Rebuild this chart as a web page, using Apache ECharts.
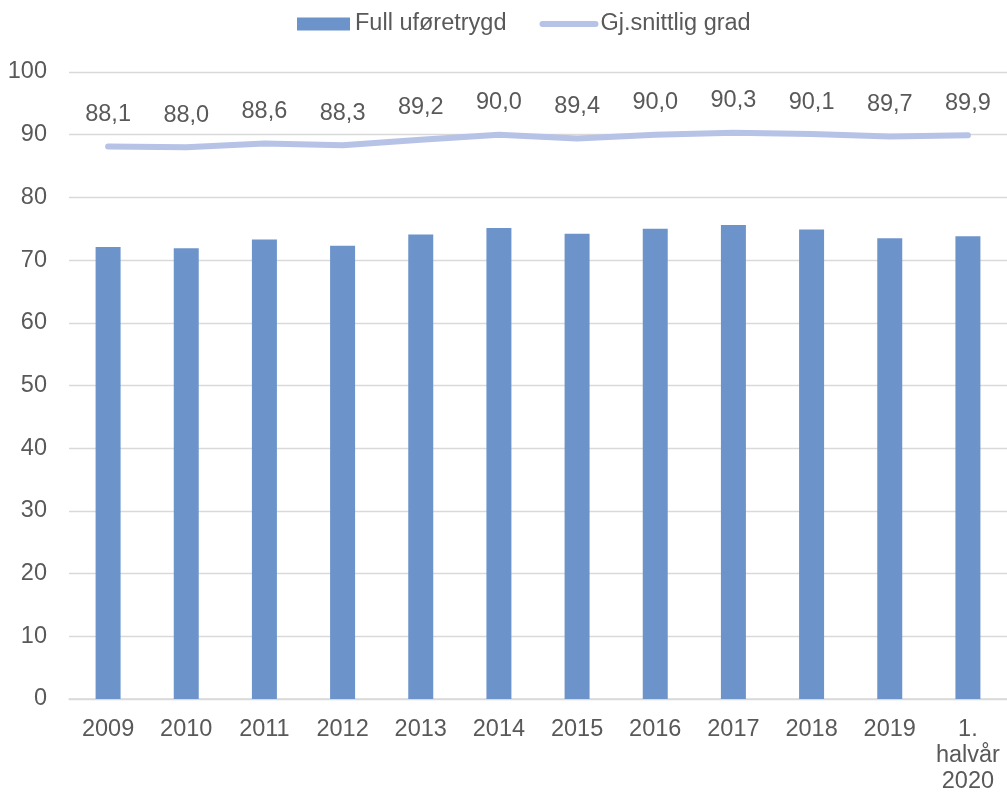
<!DOCTYPE html>
<html>
<head>
<meta charset="utf-8">
<script src="https://cdn.jsdelivr.net/npm/echarts@6/dist/echarts.min.js"></script>
<style>
html,body{margin:0;padding:0;background:#fff;}
#chart{width:1007px;height:795px;}
</style>
</head>
<body>
<div id="chart"></div>
<script>
const categories = ['2009','2010','2011','2012','2013','2014','2015','2016','2017','2018','2019','1.\nhalvår\n2020'];
const fullUforetrygd = [72.1, 71.9, 73.3, 72.3, 74.1, 75.1, 74.2, 75.0, 75.6, 74.9, 73.5, 73.8];
const gjSnittligGrad = [88.1, 88.0, 88.6, 88.3, 89.2, 90.0, 89.4, 90.0, 90.3, 90.1, 89.7, 89.9];
const yTicks = { min: 0, max: 100, interval: 10 };

const FONT = '"Liberation Sans", Arial, sans-serif';
const TXT = '#595959';
const FS = 23.5;

const chart = echarts.init(document.getElementById('chart'), null, { renderer: 'canvas' });
chart.setOption({
  animation: false,
  backgroundColor: '#ffffff',
  textStyle: { fontFamily: FONT },
  legend: {
    left: 292,
    top: 7,
    itemWidth: 53,
    itemHeight: 13,
    itemGap: 33,
    textStyle: { fontFamily: FONT, fontSize: FS, color: TXT },
    data: [
      { name: 'Full uføretrygd', icon: 'rect' },
      { name: 'Gj.snittlig grad', lineStyle: { width: 6, cap: 'round', color: '#B6C3E7' }, itemStyle: { color: 'rgba(0,0,0,0)' } }
    ]
  },
  grid: { left: 69, width: 943, top: 72, height: 629.6, containLabel: false },
  xAxis: {
    type: 'category',
    data: categories,
    axisTick: { show: false },
    axisLine: { lineStyle: { color: '#D9D9D9', width: 1.5 } },
    axisLabel: { fontFamily: FONT, fontSize: FS, color: TXT, margin: 18, lineHeight: 26, interval: 0 }
  },
  yAxis: {
    type: 'value',
    min: yTicks.min, max: yTicks.max, interval: yTicks.interval,
    axisLine: { show: false },
    axisTick: { show: false },
    splitLine: { lineStyle: { color: '#D9D9D9', width: 1.3 } },
    axisLabel: { fontFamily: FONT, fontSize: FS, color: TXT, margin: 22 }
  },
  series: [
    {
      name: 'Full uføretrygd',
      type: 'bar',
      data: fullUforetrygd,
      barWidth: 25,
      itemStyle: { color: '#6C94CB' }
    },
    {
      name: 'Gj.snittlig grad',
      type: 'line',
      data: gjSnittligGrad,
      symbol: 'circle',
      symbolSize: 2,
      showSymbol: true,
      smooth: false,
      lineStyle: { color: '#B6C3E7', width: 6, cap: 'round', join: 'round' },
      itemStyle: { color: 'rgba(0,0,0,0)' },
      label: {
        show: true,
        position: 'top',
        distance: 19,
        fontFamily: FONT,
        fontSize: FS,
        color: TXT,
        formatter: p => p.value.toFixed(1).replace('.', ',')
      }
    }
  ]
});
</script>
</body>
</html>
